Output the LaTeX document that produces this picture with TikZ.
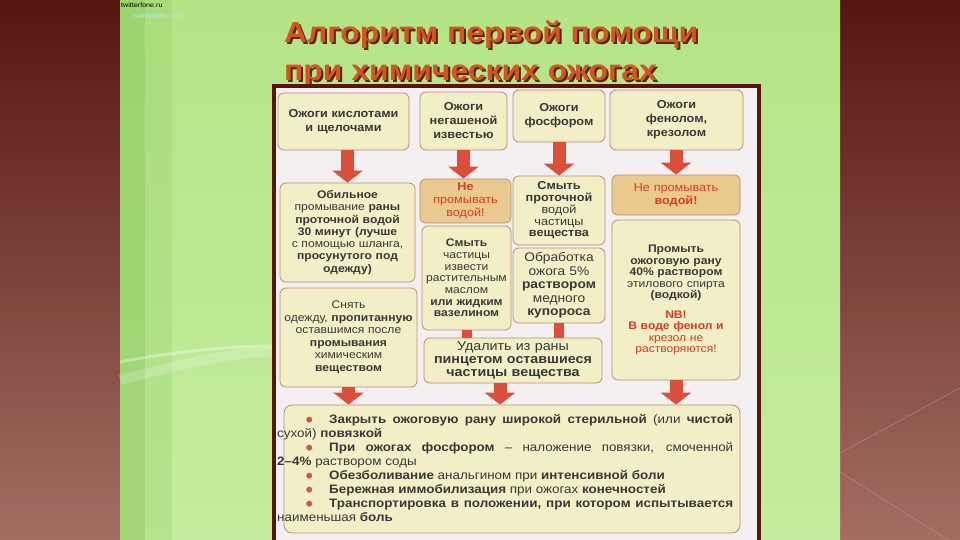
\documentclass[tikz,border=0pt]{standalone}
\usepackage{fontspec}
\setmainfont{Liberation Sans}[FakeStretch=1.1]
\newfontfamily\titlefont{Liberation Sans}[FakeStretch=1.1]
\usetikzlibrary{arrows.meta,calc}
\definecolor{slidetop}{HTML}{561610}
\definecolor{slidemid}{HTML}{7E4236}
\definecolor{slidebot}{HTML}{A26E62}
\definecolor{leaftop}{HTML}{B4E486}
\definecolor{leaf}{HTML}{A8E07A}
\definecolor{leafbot}{HTML}{C4EC9E}
\definecolor{leafdark}{HTML}{8CCA60}
\definecolor{scanframe}{HTML}{5A1408}
\definecolor{paper}{HTML}{F4F0F2}
\definecolor{boxfill}{HTML}{F2EEC6}
\definecolor{warnfill}{HTML}{EAC98E}
\definecolor{boxline}{HTML}{B88C7C}
\definecolor{ink}{HTML}{383838}
\definecolor{alert}{HTML}{D83C28}
\definecolor{arrowred}{HTML}{DA4E3A}
\definecolor{bulletred}{HTML}{D85050}
\definecolor{titlefill}{HTML}{D0581C}
\definecolor{titleshade}{HTML}{5C2410}
\tikzstyle{burn}=[rectangle,rounded corners=6pt,draw=boxline,line width=0.8pt,
fill=boxfill,text=ink,align=center,inner sep=2pt,font=\bfseries\fontsize{11.5}{14}\selectfont]
\tikzstyle{aid}=[burn,font=\bfseries\fontsize{11}{12.3}\selectfont]
\tikzstyle{nowater}=[aid,fill=warnfill,text=alert]
\tikzstyle{heading}=[anchor=base west,inner sep=0pt,text=titlefill,font=\titlefont\bfseries\fontsize{29}{38}\selectfont]
\tikzstyle{bigarrow}=[draw=arrowred,line width=13pt,-{Triangle[width=30pt,length=12pt]}]
\tikzstyle{joint}=[draw=arrowred,line width=10pt]
\newcommand\dotmark{\tikz[baseline=-3.6pt]\fill[bulletred] (0,0) circle (3pt);}
\newcommand\shadowed[1]{\rlap{\kern2pt\raisebox{-2pt}{\textcolor{titleshade}{#1}}}#1}

\begin{document}
\begin{tikzpicture}[x=1pt,y=-1pt]
    \useasboundingbox (0,0) rectangle (960,540);
    % Slide background
    \shade[top color=slidetop,middle color=slidemid,bottom color=slidebot] (0,0) rectangle (120,540);
    \shade[top color=slidetop,middle color=slidemid,bottom color=slidebot] (840,0) rectangle (960,540);
    \shade[top color=leaftop,middle color=leaf,bottom color=leafbot] (120,0) rectangle (840,540);
    \fill[leafdark,opacity=.6] (120,0) rectangle (145,540);
    \fill[leafdark,opacity=.25] (145,0) rectangle (172,540);
    \draw[white,opacity=.35,line width=3pt] (120,362) .. controls (170,352) and (230,346) .. (272,346);
    \draw[white,opacity=.2,line width=10pt] (120,380) .. controls (180,365) and (230,352) .. (272,352);
    \draw[slidebot!60!white,opacity=.5,line width=.6pt] (840,453) -- (960,388);
    \draw[slidebot!60!white,opacity=.5,line width=.6pt] (840,472) -- (948,540);
    \node (site1) [anchor=west,inner sep=0pt,font=\fontsize{6.5}{7}\selectfont] at (121,5) {twitterfone.ru};
    \node (site2) [anchor=west,inner sep=0pt,text=cyan!30!white,font=\fontsize{7}{7}\selectfont] at (133,16) {twirounds.com};
    % Title
    \node (title1) [heading] at (284,43) {\shadowed{Алгоритм первой помощи}};
    \node (title2) [heading] at (284,81) {\shadowed{при химических ожогах}};
    % The scanned chart
    \fill[paper] (272,84) rectangle (761,540);
    \draw[scanframe,line width=4pt] (274,540) -- (274,86) -- (759,86) -- (759,540);
    % First row: kinds of burns
    \node (acid) [burn,minimum width=131pt,minimum height=57pt,text width=125pt] at (343.5,121.5)
      {Ожоги кислотами\\и щелочами};
    \node (lime) [burn,minimum width=87pt,minimum height=58pt,text width=83pt] at (463.5,121)
      {Ожоги\\негашеной\\известью};
    \node (phos) [burn,minimum width=92pt,minimum height=52pt,text width=88pt] at (559,116)
      {Ожоги\\фосфором};
    \node (phenol) [burn,minimum width=133pt,minimum height=60pt,text width=129pt] at (676.5,120)
      {Ожоги\\фенолом,\\крезолом};
    % Second row: first aid steps
    \node (rinse) [aid,minimum width=135pt,minimum height=99pt,text width=131pt] at (347.5,232.5)
      {Обильное\\{\mdseries промывание} раны\\проточной водой\\30 минут (лучше\\{\mdseries с помощью шланга,}\\просунутого под\\одежду)};
    \node (nowater1) [nowater,minimum width=91pt,minimum height=44pt,text width=87pt,
      font=\fontsize{11.5}{13}\selectfont] at (465.5,201)
      {\textbf{Не}\\промывать\\водой!};
    \node (oil) [aid,minimum width=89pt,minimum height=104pt,text width=85pt,
      font=\fontsize{11}{11.7}\selectfont] at (466.5,278)
      {\textbf{Смыть}\\частицы\\извести\\растительным\\маслом\\\textbf{или жидким}\\\textbf{вазелином}};
    \node (washp) [aid,minimum width=92pt,minimum height=69pt,text width=88pt,
      font=\fontsize{11.5}{11.8}\selectfont] at (559,210.5)
      {\textbf{Смыть}\\\textbf{проточной}\\водой\\частицы\\\textbf{вещества}};
    \node (copper) [aid,minimum width=92pt,minimum height=75pt,text width=88pt,
      font=\fontsize{12.5}{13.5}\selectfont] at (559,285.5)
      {Обработка\\ожога 5\%\\\textbf{раствором}\\медного\\\textbf{купороса}};
    \node (nowater2) [nowater,minimum width=128pt,minimum height=40pt,text width=124pt,
      font=\fontsize{11.5}{13}\selectfont] at (676,195)
      {Не промывать\\\textbf{водой!}};
    \node (alcohol) [aid,minimum width=128pt,minimum height=160pt,text width=124pt,
      font=\fontsize{11}{11.5}\selectfont] at (676,300)
      {\textbf{Промыть}\\\textbf{ожоговую рану}\\\textbf{40\% раствором}\\этилового спирта\\\textbf{(водкой)}\\[8pt]
       \textcolor{alert}{\textbf{NB!}}\\\textcolor{alert}{\textbf{В воде фенол и}}\\\textcolor{alert}{крезол не}\\\textcolor{alert}{растворяются!}};
    \node (undress) [aid,minimum width=137pt,minimum height=99pt,text width=133pt,
      font=\fontsize{11}{12.5}\selectfont] at (348.5,337.5)
      {Снять\\одежду, \textbf{пропитанную}\\оставшимся после\\\textbf{промывания}\\химическим\\\textbf{веществом}};
    \node (remove) [aid,minimum width=178pt,minimum height=45pt,text width=174pt,
      font=\fontsize{13}{13}\selectfont] at (513,360.5)
      {Удалить из раны\\\textbf{пинцетом оставшиеся}\\\textbf{частицы вещества}};
    % Last row: common measures
    \node (final) [burn,rounded corners=8pt,minimum width=456pt,minimum height=128pt] at (512,469) {};
    \node (advice) [anchor=north west,inner sep=0pt,text=ink,text width=456pt,align=justify,
      font=\fontsize{12.2}{14}\selectfont] at (277,414)
      {\hspace*{29pt}\dotmark\hspace*{17pt}\textbf{Закрыть ожоговую рану широкой стерильной} (или \textbf{чистой}\linebreak
       сухой) \textbf{повязкой}\par
       \hspace*{29pt}\dotmark\hspace*{17pt}\textbf{При ожогах фосфором} – наложение повязки, смоченной\linebreak
       \textbf{2–4\%} раствором соды\par
       \hspace*{29pt}\dotmark\hspace*{17pt}\textbf{Обезболивание} анальгином при \textbf{интенсивной боли}\par
       \hspace*{29pt}\dotmark\hspace*{17pt}\textbf{Бережная иммобилизация} при ожогах \textbf{конечностей}\par
       \hspace*{29pt}\dotmark\hspace*{17pt}\textbf{Транспортировка в положении, при котором испытывается}\linebreak
       наименьшая \textbf{боль}};
    % Arrows between the boxes
    \draw[bigarrow] (acid.south -| rinse.north) -- (rinse.north);
    \draw[bigarrow] (lime.south) -- (lime.south |- nowater1.north);
    \draw[bigarrow] (phos.south) -- (phos.south |- washp.north);
    \draw[bigarrow] (phenol.south -| nowater2.north) -- (nowater2.north);
    \draw[joint] (oil.south) -- (oil.south |- remove.north);
    \draw[joint] (copper.south) -- (copper.south |- remove.north);
    \draw[bigarrow] (undress.south) -- (undress.south |- final.north);
    \draw[bigarrow] ($(remove.south)+(-13,0)$) -- ($(remove.south |- final.north)+(-13,0)$);
    \draw[bigarrow] (alcohol.south) -- (alcohol.south |- final.north);
\end{tikzpicture}
\end{document}
